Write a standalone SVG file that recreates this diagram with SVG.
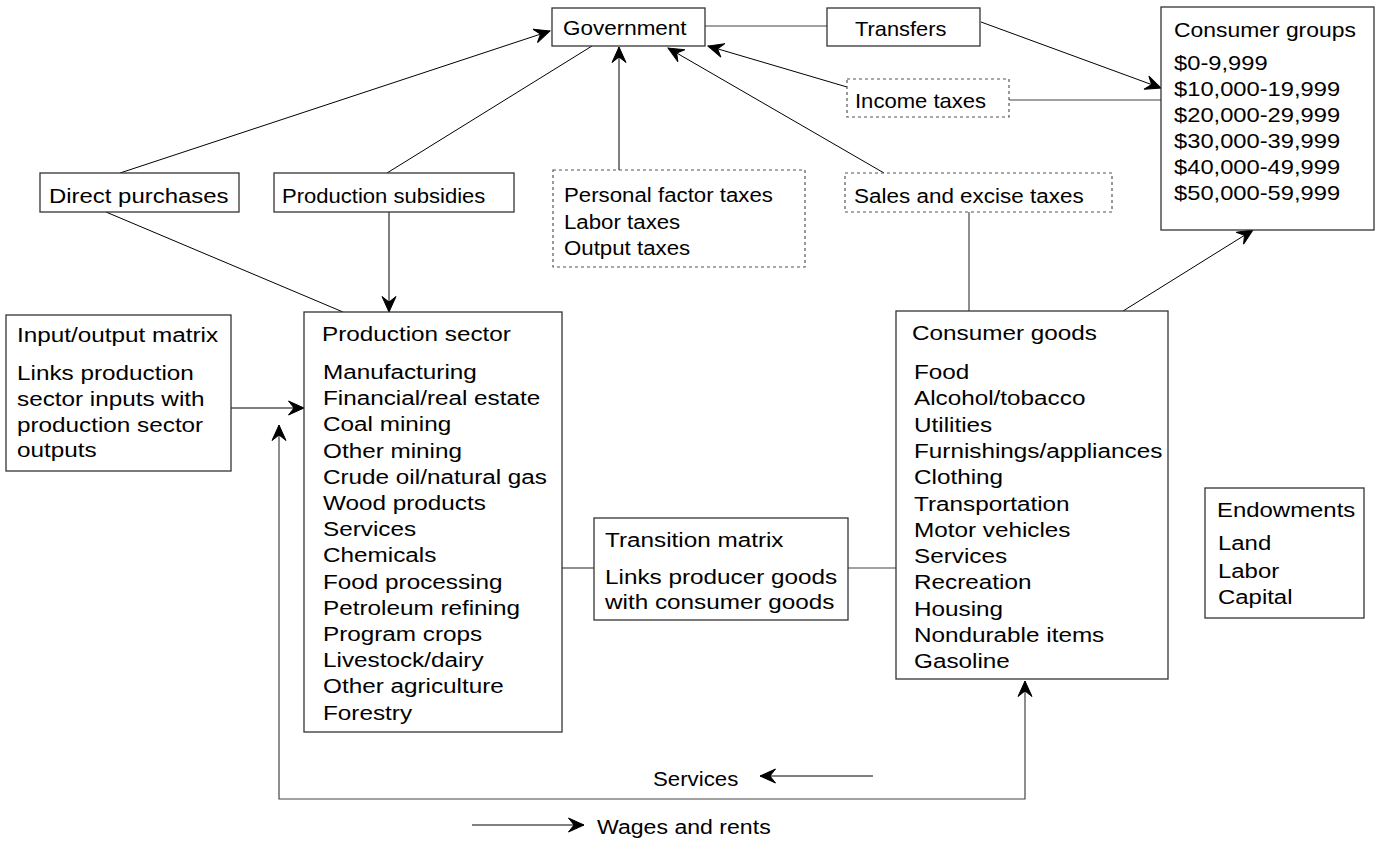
<svg xmlns="http://www.w3.org/2000/svg" width="1381" height="841" viewBox="0 0 1381 841">
<style>
text{font-family:"Liberation Sans",Arial,Helvetica,sans-serif;font-size:21px;fill:#000}
.box{fill:#fff;stroke:#333;stroke-width:1.3}
.dash{fill:#fff;stroke:#555;stroke-width:1.2;stroke-dasharray:3 3}
.c{fill:none;stroke:#000;stroke-width:1}
.g{fill:none;stroke:#444;stroke-width:1.2}
.a{marker-end:url(#ah)}
</style>
<defs>
<marker id="ah" viewBox="0 0 18 16" markerWidth="18" markerHeight="16" refX="17" refY="8" orient="auto-start-reverse" markerUnits="userSpaceOnUse">
<path d="M17,8 L1.5,1 L7,8 L1.5,15 Z" fill="#000" stroke="#000" stroke-width="1" stroke-linejoin="miter"/>
</marker>
</defs>
<rect width="1381" height="841" fill="#fff"/>
<g id="connectors">
<line class="g" x1="705" y1="26" x2="827" y2="26"/>
<line class="c a" x1="981" y1="22" x2="1161" y2="88"/>
<line class="g" x1="1009" y1="100" x2="1161" y2="100"/>
<line class="c a" x1="847" y1="87" x2="708" y2="46"/>
<line class="c a" x1="884" y1="173" x2="668" y2="48"/>
<line class="c a" x1="619" y1="170" x2="619" y2="47"/>
<line class="c a" x1="120" y1="173" x2="550" y2="31"/>
<line class="c" x1="387" y1="173" x2="592" y2="46"/>
<line class="c a" x1="389" y1="212" x2="389" y2="312"/>
<line class="c" x1="106" y1="212" x2="343" y2="312"/>
<line class="g" x1="969" y1="212" x2="969" y2="311"/>
<line class="c a" x1="1123" y1="311" x2="1253" y2="230"/>
<line class="c a" x1="231" y1="408" x2="304" y2="408"/>
<line class="g" x1="562" y1="568" x2="594" y2="568"/>
<line class="g" x1="848" y1="568" x2="896" y2="568"/>
<polyline class="g" points="279,425 279,799 1025,799 1025,681" marker-start="url(#ah)" marker-end="url(#ah)"/>
<line class="c a" x1="873" y1="776" x2="760" y2="776"/>
<line class="c a" x1="472" y1="825" x2="584" y2="825"/>
<text transform="translate(653,786) scale(1.06,1)">Services</text>
<text transform="translate(597,834) scale(1.1,1)">Wages and rents</text>
</g>
<g id="government">
<rect class="box" x="552" y="8" width="153" height="38"/>
<text transform="translate(563,35) scale(1.07,1)">Government</text>
</g>
<g id="transfers">
<rect class="box" x="827" y="8" width="153" height="38"/>
<text transform="translate(855,36) scale(1.04,1)">Transfers</text>
</g>
<g id="income-taxes">
<rect class="dash" x="847" y="79" width="162" height="38"/>
<text transform="translate(855,108) scale(1.05,1)">Income taxes</text>
</g>
<g id="consumer-groups">
<rect class="box" x="1161" y="7" width="213" height="223"/>
<text transform="translate(1174,37) scale(1.09,1)">Consumer groups</text>
<text transform="translate(1174,70) scale(1.13,1)">$0-9,999</text>
<text transform="translate(1174,96) scale(1.13,1)">$10,000-19,999</text>
<text transform="translate(1174,122) scale(1.13,1)">$20,000-29,999</text>
<text transform="translate(1174,148) scale(1.13,1)">$30,000-39,999</text>
<text transform="translate(1174,174) scale(1.13,1)">$40,000-49,999</text>
<text transform="translate(1174,200) scale(1.13,1)">$50,000-59,999</text>
</g>
<g id="direct-purchases">
<rect class="box" x="40" y="173" width="199" height="39"/>
<text transform="translate(49,203) scale(1.14,1)">Direct purchases</text>
</g>
<g id="production-subsidies">
<rect class="box" x="274" y="173" width="240" height="39"/>
<text transform="translate(282,203) scale(1.05,1)">Production subsidies</text>
</g>
<g id="personal-taxes">
<rect class="dash" x="553" y="170" width="252" height="97"/>
<text transform="translate(564,202) scale(1.06,1)">Personal factor taxes</text>
<text transform="translate(564,229) scale(1.06,1)">Labor taxes</text>
<text transform="translate(564,255) scale(1.06,1)">Output taxes</text>
</g>
<g id="sales-taxes">
<rect class="dash" x="845" y="173" width="267" height="39"/>
<text transform="translate(854,203) scale(1.07,1)">Sales and excise taxes</text>
</g>
<g id="io-matrix">
<rect class="box" x="6" y="315" width="225" height="156"/>
<text transform="translate(17,342) scale(1.157,1)">Input/output matrix</text>
<text transform="translate(17,380) scale(1.157,1)">Links production</text>
<text transform="translate(17,406) scale(1.157,1)">sector inputs with</text>
<text transform="translate(17,432) scale(1.157,1)">production sector</text>
<text transform="translate(17,457) scale(1.157,1)">outputs</text>
</g>
<g id="production-sector">
<rect class="box" x="304" y="312" width="258" height="420"/>
<text transform="translate(322,341) scale(1.157,1)">Production sector</text>
<text transform="translate(323,379) scale(1.157,1)">Manufacturing</text>
<text transform="translate(323,405.2) scale(1.157,1)">Financial/real estate</text>
<text transform="translate(323,431.4) scale(1.157,1)">Coal mining</text>
<text transform="translate(323,457.6) scale(1.157,1)">Other mining</text>
<text transform="translate(323,483.8) scale(1.157,1)">Crude oil/natural gas</text>
<text transform="translate(323,510) scale(1.157,1)">Wood products</text>
<text transform="translate(323,536.2) scale(1.157,1)">Services</text>
<text transform="translate(323,562.4) scale(1.157,1)">Chemicals</text>
<text transform="translate(323,588.6) scale(1.157,1)">Food processing</text>
<text transform="translate(323,614.8) scale(1.157,1)">Petroleum refining</text>
<text transform="translate(323,641) scale(1.157,1)">Program crops</text>
<text transform="translate(323,667.2) scale(1.157,1)">Livestock/dairy</text>
<text transform="translate(323,693.4) scale(1.157,1)">Other agriculture</text>
<text transform="translate(323,719.6) scale(1.157,1)">Forestry</text>
</g>
<g id="transition-matrix">
<rect class="box" x="594" y="518" width="254" height="102"/>
<text transform="translate(605,547) scale(1.157,1)">Transition matrix</text>
<text transform="translate(605,584) scale(1.157,1)">Links producer goods</text>
<text transform="translate(605,609) scale(1.157,1)">with consumer goods</text>
</g>
<g id="consumer-goods">
<rect class="box" x="896" y="311" width="272" height="368"/>
<text transform="translate(912,340) scale(1.157,1)">Consumer goods</text>
<text transform="translate(914,379) scale(1.157,1)">Food</text>
<text transform="translate(914,405.3) scale(1.157,1)">Alcohol/tobacco</text>
<text transform="translate(914,431.6) scale(1.157,1)">Utilities</text>
<text transform="translate(914,457.9) scale(1.157,1)">Furnishings/appliances</text>
<text transform="translate(914,484.2) scale(1.157,1)">Clothing</text>
<text transform="translate(914,510.5) scale(1.157,1)">Transportation</text>
<text transform="translate(914,536.8) scale(1.157,1)">Motor vehicles</text>
<text transform="translate(914,563.1) scale(1.157,1)">Services</text>
<text transform="translate(914,589.4) scale(1.157,1)">Recreation</text>
<text transform="translate(914,615.7) scale(1.157,1)">Housing</text>
<text transform="translate(914,642) scale(1.157,1)">Nondurable items</text>
<text transform="translate(914,668.3) scale(1.157,1)">Gasoline</text>
</g>
<g id="endowments">
<rect class="box" x="1205" y="488" width="159" height="130"/>
<text transform="translate(1217,517) scale(1.14,1)">Endowments</text>
<text transform="translate(1218,550) scale(1.14,1)">Land</text>
<text transform="translate(1218,578) scale(1.14,1)">Labor</text>
<text transform="translate(1218,604) scale(1.14,1)">Capital</text>
</g>
</svg>
